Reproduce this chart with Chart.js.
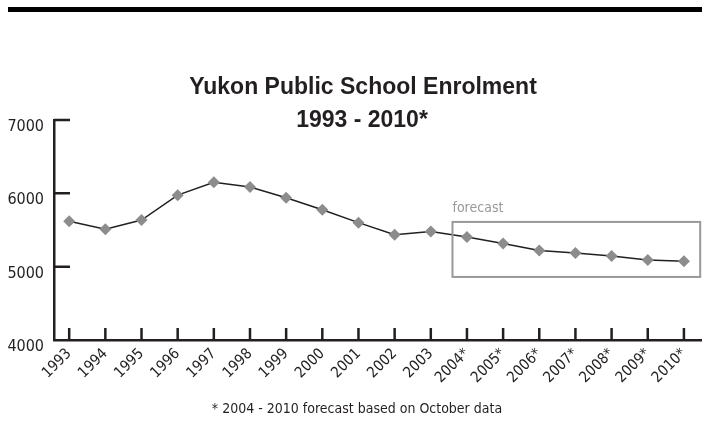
<!DOCTYPE html>
<html>
<head>
<meta charset="utf-8">
<title>Yukon Public School Enrolment</title>
<script src="https://cdn.jsdelivr.net/npm/chart.js@4.4.1/dist/chart.umd.min.js"></script>
<style>
  html, body { margin: 0; padding: 0; background: #fff; }
  #wrap { width: 702px; height: 423px; position: relative; }
</style>
</head>
<body>
<div id="wrap"><canvas id="enrolChart"></canvas></div>
<script>
// enrolment by school year, 2004 onward is the forecast
var years = ['1993', '1994', '1995', '1996', '1997', '1998', '1999', '2000', '2001',
             '2002', '2003', '2004*', '2005*', '2006*', '2007*', '2008*', '2009*', '2010*'];
var enrolment = [5620, 5510, 5635, 5975, 6150, 6085, 5940, 5775, 5600,
                 5435, 5480, 5405, 5315, 5220, 5185, 5145, 5090, 5075];
var yTicks = [4000, 5000, 6000, 7000];
// forecast frame, in axis units (year index / students)
var forecastBox = { from: 10.6, to: 17.45, low: 4860, high: 5610 };

var ink = '#231f20';
var narrow = '"DejaVu Sans Condensed", "Liberation Sans", sans-serif';
var plain = '"Liberation Sans", Arial, sans-serif';

var points = enrolment.map(function (v, i) { return { x: i, y: v }; });

// heading, top rule, footnote, inner tick marks and the forecast frame
var decorations = {
  id: 'decorations',
  afterDraw: function (chart) {
    var c = chart.ctx, xs = chart.scales.x, ys = chart.scales.y;
    var area = chart.chartArea;
    c.save();

    c.fillStyle = '#000';
    c.fillRect(8, 7, 694, 5);

    c.fillStyle = ink;
    c.textAlign = 'center';
    c.textBaseline = 'middle';
    c.font = 'bold 23px ' + plain;
    c.fillText('Yukon Public School Enrolment', 363, 88);
    c.fillText('1993 - 2010*', 362, 121);

    c.font = '14px ' + narrow;
    c.fillText('* 2004 - 2010 forecast based on October data', 357, 409);

    // tick marks point into the plot
    c.strokeStyle = ink;
    c.lineWidth = 2.5;
    c.beginPath();
    yTicks.slice(1).forEach(function (t) {
      var py = ys.getPixelForValue(t);
      c.moveTo(area.left, py);
      c.lineTo(area.left + 16, py);
    });
    years.forEach(function (_, i) {
      var px = xs.getPixelForValue(i);
      c.moveTo(px, area.bottom);
      c.lineTo(px, area.bottom - 12);
    });
    c.stroke();

    var bx0 = xs.getPixelForValue(forecastBox.from);
    var bx1 = xs.getPixelForValue(forecastBox.to);
    var by0 = ys.getPixelForValue(forecastBox.high);
    var by1 = ys.getPixelForValue(forecastBox.low);
    c.strokeStyle = '#999';
    c.lineWidth = 2;
    c.strokeRect(bx0, by0, bx1 - bx0, by1 - by0);

    c.fillStyle = '#999';
    c.textAlign = 'left';
    c.textBaseline = 'alphabetic';
    c.font = '14px ' + narrow;
    c.fillText('forecast', bx0, by0 - 10);

    c.restore();
  }
};

var ctx = document.getElementById('enrolChart').getContext('2d');
var chart = new Chart(ctx, {
  type: 'line',
  data: {
    datasets: [{
      label: 'Enrolment',
      data: points,
      borderColor: ink,
      borderWidth: 1.5,
      pointStyle: 'rectRot',
      pointRadius: 6,
      pointBackgroundColor: '#8c8c8c',
      pointBorderColor: '#8c8c8c',
      pointBorderWidth: 0,
      tension: 0
    }]
  },
  options: {
    responsive: true,
    maintainAspectRatio: false,
    animation: false,
    layout: { autoPadding: false, padding: { top: 120, left: 0, right: 0, bottom: 0 } },
    plugins: {
      legend: { display: false },
      tooltip: { enabled: false }
    },
    scales: {
      x: {
        type: 'linear',
        min: -0.42,
        max: 17.5,
        grid: { display: false, drawTicks: false },
        border: { display: true, color: ink, width: 2.5 },
        ticks: {
          stepSize: 1,
          includeBounds: false,
          autoSkip: false,
          minRotation: 45,
          maxRotation: 45,
          padding: 5,
          color: ink,
          font: { family: narrow, size: 15 },
          callback: function (v) { return Number.isInteger(v) ? years[v] : ''; }
        },
        afterFit: function (s) { s.height = 83; s.paddingLeft = 0; s.paddingRight = 0; }
      },
      y: {
        min: 4000,
        max: 7000,
        grid: { display: false, drawTicks: false },
        border: { display: true, color: ink, width: 2.5 },
        afterBuildTicks: function (s) { s.ticks = yTicks.map(function (v) { return { value: v }; }); },
        ticks: {
          padding: 10,
          labelOffset: 7,
          color: ink,
          font: { family: narrow, size: 16 },
          callback: function (v) { return String(v); }
        },
        afterFit: function (s) { s.width = 54; s.paddingTop = 0; s.paddingBottom = 0; }
      }
    }
  },
  plugins: [decorations]
});
</script>
</body>
</html>
